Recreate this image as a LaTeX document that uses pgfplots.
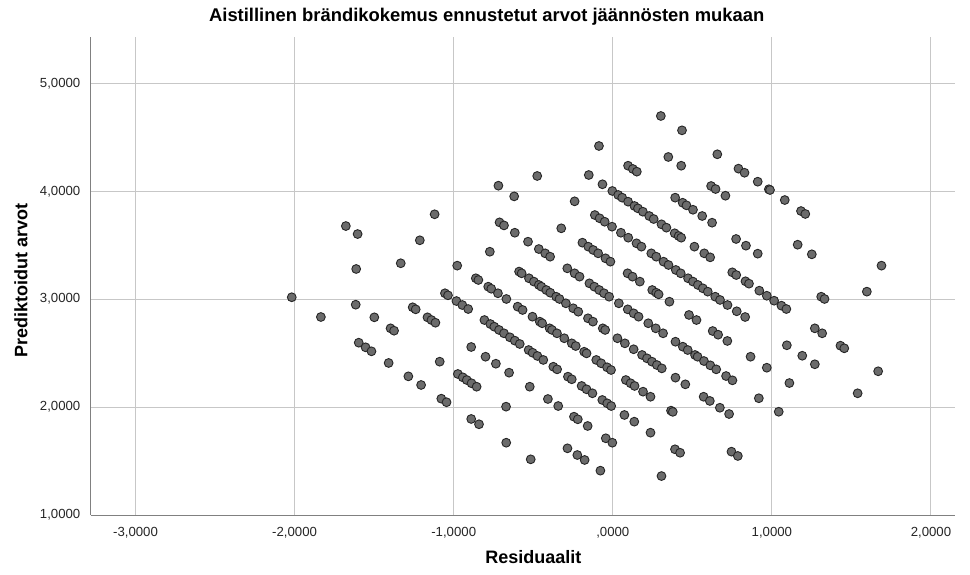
\documentclass[border=0pt]{standalone}
\usepackage{pgfplots}
\pgfplotsset{compat=1.18}
\usepackage{fontspec}
\setmainfont{Liberation Sans}
\begin{document}
\begin{tikzpicture}
\useasboundingbox (-45.5pt,-29.5pt) rectangle (439.5pt,257.5pt);
\begin{axis}[
  scale only axis,
  width=432pt, height=239pt,
  xmin=-3.28, xmax=2.151,
  ymin=1, ymax=5.43,
  axis x line*=bottom, axis y line*=left,
  axis line style={-, draw=black!50, line width=0.5pt},
  xtick={-3,-2,-1,0,1,2},
  xticklabels={{-3,0000},{-2,0000},{-1,0000},{,0000},{1,0000},{2,0000}},
  ytick={1,2,3,4,5},
  yticklabels={{1,0000},{2,0000},{3,0000},{4,0000},{5,0000}},
  tick style={draw=none},
  grid=major,
  major grid style={draw=black!22, line width=0.5pt},
  tick label style={font=\fontsize{6.6}{8}\selectfont, text=black!85},
  xticklabel style={yshift=-2.4pt},
  yticklabel style={xshift=-1.8pt},
  every axis title shift=0pt,
  title={Aistillinen brändikokemus ennustetut arvot jäännösten mukaan},
  title style={at={(axis description cs:0.458,1.042)}, anchor=center, font=\fontsize{9.2}{11}\selectfont\bfseries},
  xlabel={Residuaalit},
  xlabel style={at={(axis description cs:0.512,-0.088)}, anchor=center, font=\fontsize{9}{11}\selectfont\bfseries},
  ylabel={Prediktoidut arvot},
  ylabel style={at={(axis description cs:-0.081,0.49)}, anchor=center, font=\fontsize{9}{11}\selectfont\bfseries},
]
\addplot[only marks, mark=*, mark size=2.2pt, mark options={fill=black!58, draw=black!85, line width=0.45pt}] table {
x y
-2.018 3.018
-1.835 2.835
-1.597 2.597
-1.554 2.554
-1.517 2.517
-1.409 2.409
-1.285 2.285
-1.205 2.205
-1.078 2.078
-1.045 2.045
-0.890 1.890
-0.841 1.841
-0.670 1.670
-0.516 1.516
-1.616 2.949
-1.499 2.832
-1.397 2.730
-1.375 2.708
-1.088 2.421
-0.974 2.307
-0.943 2.276
-0.918 2.251
-0.888 2.221
-0.856 2.189
-0.671 2.004
-0.285 1.618
-0.223 1.556
-0.177 1.510
-0.078 1.411
-1.613 3.280
-1.258 2.925
-1.239 2.906
-1.165 2.832
-1.140 2.807
-1.115 2.782
-0.890 2.557
-0.800 2.467
-0.735 2.402
-0.652 2.319
-0.522 2.189
-0.408 2.075
-0.343 2.010
-0.244 1.911
-0.220 1.887
-0.158 1.825
-0.044 1.711
-0.003 1.670
0.306 1.361
-1.678 3.678
-1.604 3.604
-1.333 3.333
-1.055 3.055
-1.036 3.036
-0.983 2.983
-0.946 2.946
-0.909 2.909
-0.807 2.807
-0.770 2.770
-0.745 2.745
-0.715 2.715
-0.684 2.684
-0.647 2.647
-0.616 2.616
-0.585 2.585
-0.529 2.529
-0.504 2.504
-0.474 2.474
-0.437 2.437
-0.374 2.374
-0.350 2.350
-0.282 2.282
-0.258 2.258
-0.196 2.196
-0.165 2.165
-0.128 2.128
-0.066 2.066
-0.035 2.035
-0.010 2.010
0.073 1.927
0.135 1.865
0.237 1.763
0.391 1.609
0.423 1.577
-1.213 3.546
-0.978 3.311
-0.861 3.194
-0.845 3.178
-0.783 3.116
-0.764 3.097
-0.722 3.055
-0.669 3.002
-0.598 2.931
-0.567 2.900
-0.505 2.838
-0.459 2.792
-0.444 2.777
-0.397 2.730
-0.382 2.715
-0.351 2.684
-0.305 2.638
-0.258 2.591
-0.233 2.566
-0.180 2.513
-0.165 2.498
-0.104 2.437
-0.073 2.406
-0.036 2.369
-0.011 2.344
0.082 2.251
0.112 2.221
0.137 2.196
0.190 2.143
0.237 2.096
0.366 1.967
0.377 1.956
0.746 1.587
0.786 1.547
-1.120 3.787
-0.773 3.440
-0.589 3.256
-0.573 3.240
-0.527 3.194
-0.496 3.163
-0.465 3.132
-0.449 3.116
-0.418 3.085
-0.393 3.060
-0.356 3.023
-0.335 3.002
-0.295 2.962
-0.249 2.916
-0.217 2.884
-0.156 2.823
-0.125 2.792
-0.063 2.730
-0.048 2.715
0.029 2.638
0.076 2.591
0.131 2.536
0.184 2.483
0.215 2.452
0.246 2.421
0.277 2.390
0.308 2.359
0.394 2.273
0.456 2.211
0.571 2.096
0.610 2.057
0.673 1.994
0.731 1.936
-0.712 3.712
-0.684 3.684
-0.616 3.616
-0.533 3.533
-0.465 3.465
-0.425 3.425
-0.394 3.394
-0.286 3.286
-0.240 3.240
-0.209 3.209
-0.147 3.147
-0.116 3.116
-0.085 3.085
-0.055 3.055
-0.023 3.023
0.038 2.962
0.094 2.906
0.131 2.869
0.162 2.838
0.223 2.777
0.270 2.730
0.316 2.684
0.394 2.606
0.440 2.560
0.471 2.529
0.517 2.483
0.533 2.467
0.573 2.427
0.613 2.387
0.650 2.350
0.712 2.288
0.752 2.248
0.918 2.082
1.043 1.957
-0.719 4.052
-0.620 3.953
-0.324 3.657
-0.191 3.524
-0.154 3.487
-0.123 3.456
-0.092 3.425
-0.046 3.379
-0.015 3.348
0.093 3.240
0.124 3.209
0.170 3.163
0.248 3.085
0.273 3.060
0.288 3.045
0.356 2.977
0.479 2.854
0.526 2.807
0.628 2.705
0.662 2.671
0.720 2.613
0.866 2.467
0.968 2.365
1.110 2.223
-0.475 4.142
-0.240 3.907
-0.113 3.780
-0.083 3.750
-0.051 3.718
-0.005 3.672
0.051 3.616
0.097 3.570
0.149 3.518
0.180 3.487
0.242 3.425
0.273 3.394
0.319 3.348
0.350 3.317
0.396 3.271
0.427 3.240
0.473 3.194
0.504 3.163
0.535 3.132
0.566 3.101
0.597 3.070
0.644 3.023
0.674 2.993
0.721 2.946
0.779 2.888
0.832 2.835
1.094 2.573
1.191 2.476
1.270 2.397
1.539 2.128
-0.151 4.151
-0.065 4.065
-0.003 4.003
0.034 3.966
0.059 3.941
0.096 3.904
0.136 3.864
0.158 3.842
0.189 3.811
0.229 3.771
0.257 3.743
0.306 3.694
0.337 3.663
0.389 3.611
0.414 3.586
0.430 3.570
0.513 3.487
0.575 3.425
0.612 3.388
0.751 3.249
0.776 3.224
0.834 3.166
0.856 3.144
0.921 3.079
0.968 3.032
1.014 2.986
1.060 2.940
1.091 2.909
1.270 2.730
1.316 2.684
1.431 2.569
1.455 2.545
1.668 2.332
-0.087 4.420
0.096 4.237
0.126 4.207
0.151 4.182
0.392 3.941
0.439 3.894
0.463 3.870
0.504 3.829
0.562 3.771
0.624 3.709
0.775 3.558
0.837 3.496
0.911 3.422
1.310 3.023
1.331 3.002
0.349 4.318
0.430 4.237
0.618 4.049
0.646 4.021
0.708 3.959
1.162 3.505
1.251 3.416
1.597 3.070
0.302 4.698
0.435 4.565
0.657 4.343
0.790 4.210
0.828 4.172
0.911 4.089
0.981 4.019
0.988 4.012
1.081 3.919
1.183 3.817
1.210 3.790
1.689 3.311
};
\end{axis}
\end{tikzpicture}
\end{document}
